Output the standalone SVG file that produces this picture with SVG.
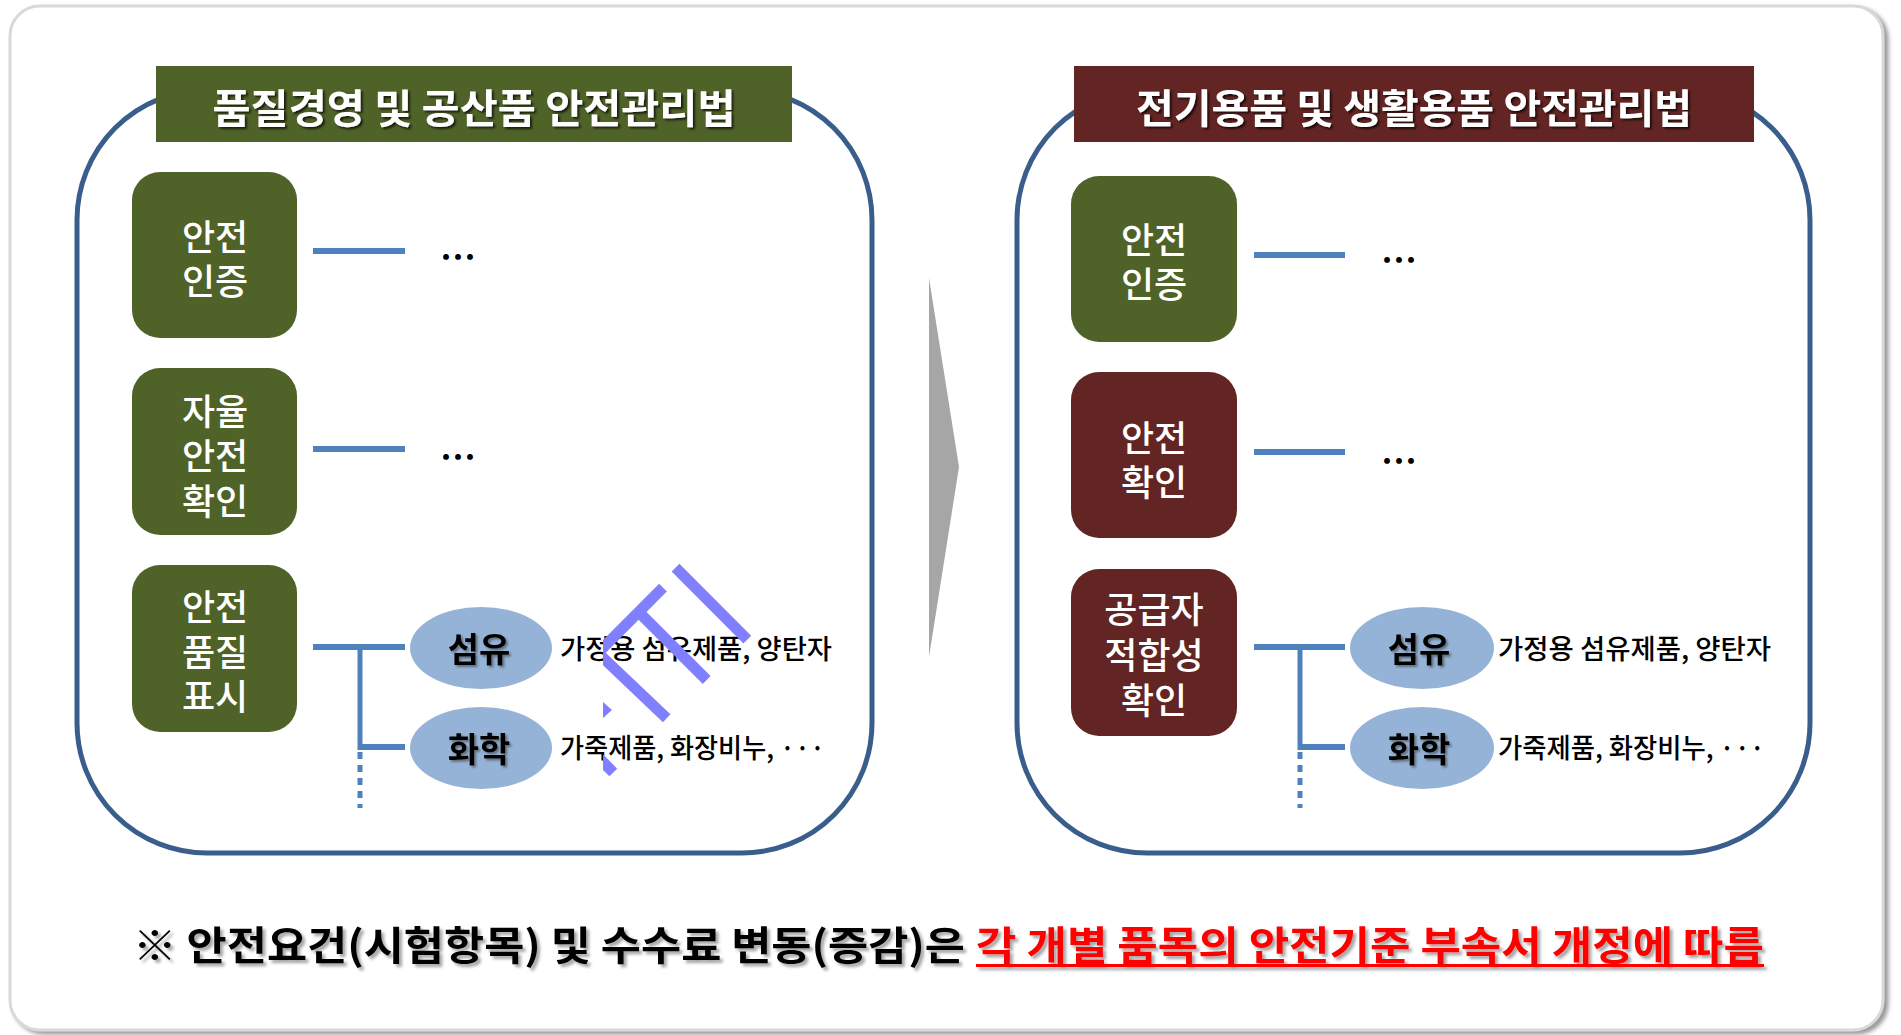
<svg xmlns="http://www.w3.org/2000/svg" width="1901" height="1035" viewBox="0 0 1901 1035">
<defs>
<style>
.kr{font-family:"Noto Sans CJK KR","Noto Sans",sans-serif}
.title{font-size:40px;font-weight:bold;fill:#fff;text-anchor:middle}
.node{font-size:36px;font-weight:500;fill:#fff;text-anchor:middle}
.green{fill:#4F6228}
.red{fill:#632523}
.panel{fill:none;stroke:#3A5E8C;stroke-width:5}
.conn{stroke:#4F81BD;stroke-width:6;fill:none}
.vert{stroke:#4F81BD;stroke-width:5;fill:none}
.dotted{stroke:#4F81BD;stroke-width:5;stroke-dasharray:7 6;fill:none}
.ell{fill:#95B3D7}
.cat{font-size:34px;font-weight:bold;fill:#000;text-anchor:middle}
.desc{font-size:27px;font-weight:500;fill:#000}
.etc{font-size:36px;font-weight:bold;fill:#000;text-anchor:middle}
.wm{stroke:#8080FF;stroke-width:11;fill:none}
.note{font-size:40px;font-weight:bold}
</style>
<filter id="shFrame" x="-2%" y="-2%" width="104%" height="104%"><feDropShadow dx="4" dy="3" stdDeviation="2" flood-color="#7f7f7f" flood-opacity="0.8"/></filter>
<filter id="shTitle" x="-5%" y="-30%" width="110%" height="160%"><feDropShadow dx="2" dy="2" stdDeviation="1" flood-color="#000" flood-opacity="0.7"/></filter>
<filter id="shCat" x="-10%" y="-30%" width="120%" height="160%"><feDropShadow dx="2" dy="2" stdDeviation="1" flood-color="#404040" flood-opacity="0.6"/></filter>
<filter id="shNote" x="-2%" y="-30%" width="104%" height="160%"><feDropShadow dx="3" dy="3" stdDeviation="1.5" flood-color="#000" flood-opacity="0.35"/></filter>
<clipPath id="wmClip"><rect x="603" y="540" width="200" height="260"/></clipPath>
</defs>

<rect id="frame" x="10" y="6" width="1873" height="1024" rx="30" fill="#fff" stroke="#d9d9d9" stroke-width="3" filter="url(#shFrame)"/>

<!-- panels -->
<g id="panel-left">
<rect class="panel" x="77" y="90" width="795" height="763" rx="130"/>
<rect class="green" x="156" y="66" width="636" height="76"/>
<text class="kr title" x="474" y="123" textLength="523" lengthAdjust="spacingAndGlyphs" filter="url(#shTitle)">품질경영 및 공산품 안전관리법</text>
</g>
<g id="panel-right">
<rect class="panel" x="1017" y="90" width="793" height="763" rx="130"/>
<rect class="red" x="1074" y="66" width="680" height="76"/>
<text class="kr title" x="1414" y="123" textLength="556" lengthAdjust="spacingAndGlyphs" filter="url(#shTitle)">전기용품 및 생활용품 안전관리법</text>
</g>

<!-- arrow -->
<polygon id="arrow" points="929,278 959,467 929,657" fill="#A6A6A6"/>

<!-- connectors -->
<g id="connectors">
<line class="conn" x1="313" y1="251" x2="405" y2="251"/>
<line class="conn" x1="313" y1="449" x2="405" y2="449"/>
<line class="conn" x1="313" y1="647" x2="405" y2="647"/>
<line class="vert" x1="360" y1="647" x2="360" y2="750"/>
<line class="conn" x1="360" y1="747" x2="405" y2="747"/>
<line class="dotted" x1="360" y1="752" x2="360" y2="808"/>

<line class="conn" x1="1254" y1="255" x2="1345" y2="255"/>
<line class="conn" x1="1254" y1="452" x2="1345" y2="452"/>
<line class="conn" x1="1254" y1="647" x2="1345" y2="647"/>
<line class="vert" x1="1300" y1="647" x2="1300" y2="750"/>
<line class="conn" x1="1300" y1="747" x2="1345" y2="747"/>
<line class="dotted" x1="1300" y1="752" x2="1300" y2="808"/>
</g>

<!-- left nodes -->
<g id="L-cert">
<rect class="green" x="132" y="172" width="165" height="166" rx="28"/>
<text class="kr node"><tspan x="215" y="251">안전</tspan><tspan x="215" y="295">인증</tspan></text>
</g>
<g id="L-self">
<rect class="green" x="132" y="368" width="165" height="167" rx="28"/>
<text class="kr node"><tspan x="215" y="425">자율</tspan><tspan x="215" y="470">안전</tspan><tspan x="215" y="515">확인</tspan></text>
</g>
<g id="L-label">
<rect class="green" x="132" y="565" width="165" height="167" rx="28"/>
<text class="kr node"><tspan x="215" y="621">안전</tspan><tspan x="215" y="666">품질</tspan><tspan x="215" y="710">표시</tspan></text>
</g>
<text class="kr etc" x="458" y="271">…</text>
<text class="kr etc" x="458" y="471">…</text>

<g id="L-fiber">
<ellipse class="ell" cx="481" cy="648" rx="71" ry="41"/>
<text class="kr cat" x="479" y="662" filter="url(#shCat)">섬유</text>
</g>
<g id="L-chem">
<ellipse class="ell" cx="481" cy="748" rx="71" ry="41"/>
<text class="kr cat" x="479" y="762" filter="url(#shCat)">화학</text>
</g>
<text class="kr desc" x="560" y="659" textLength="272" lengthAdjust="spacingAndGlyphs">가정용 섬유제품, 양탄자</text>
<text class="kr desc" x="560" y="758" textLength="265" lengthAdjust="spacingAndGlyphs">가죽제품, 화장비누, ···</text>

<!-- right nodes -->
<g id="R-cert">
<rect class="green" x="1071" y="176" width="166" height="166" rx="28"/>
<text class="kr node"><tspan x="1154" y="254">안전</tspan><tspan x="1154" y="298">인증</tspan></text>
</g>
<g id="R-check">
<rect class="red" x="1071" y="372" width="166" height="166" rx="28"/>
<text class="kr node"><tspan x="1154" y="452">안전</tspan><tspan x="1154" y="496">확인</tspan></text>
</g>
<g id="R-sdoc">
<rect class="red" x="1071" y="569" width="166" height="167" rx="28"/>
<text class="kr node"><tspan x="1154" y="623">공급자</tspan><tspan x="1154" y="669">적합성</tspan><tspan x="1154" y="714">확인</tspan></text>
</g>
<text class="kr etc" x="1399" y="274">…</text>
<text class="kr etc" x="1399" y="475">…</text>

<g id="R-fiber">
<ellipse class="ell" cx="1422" cy="648" rx="72" ry="41"/>
<text class="kr cat" x="1419" y="662" filter="url(#shCat)">섬유</text>
</g>
<g id="R-chem">
<ellipse class="ell" cx="1422" cy="748" rx="72" ry="41"/>
<text class="kr cat" x="1419" y="762" filter="url(#shCat)">화학</text>
</g>
<text class="kr desc" x="1498" y="659" textLength="273" lengthAdjust="spacingAndGlyphs">가정용 섬유제품, 양탄자</text>
<text class="kr desc" x="1498" y="758" textLength="267" lengthAdjust="spacingAndGlyphs">가죽제품, 화장비누, ···</text>

<!-- watermark shapes -->
<g id="watermark" clip-path="url(#wmClip)">
<line class="wm" x1="675.5" y1="567.7" x2="747.3" y2="639.7"/>
<line class="wm" x1="663" y1="587.7" x2="595" y2="655.7"/>
<line class="wm" x1="638.7" y1="612" x2="706.7" y2="680"/>
<line class="wm" x1="598" y1="653" x2="666.7" y2="718.3"/>
<line class="wm" x1="595" y1="754" x2="613.3" y2="772.5"/>
<polygon points="603,702 612,710 603,718" fill="#8080FF"/>
</g>

<!-- note -->
<g id="note" filter="url(#shNote)">
<text class="kr note" x="133" y="960" fill="#000" textLength="832" lengthAdjust="spacingAndGlyphs">※ 안전요건(시험항목) 및 수수료 변동(증감)은</text>
<text class="kr note" x="976" y="960" fill="#FF0000" textLength="788" lengthAdjust="spacingAndGlyphs">각 개별 품목의 안전기준 부속서 개정에 따름</text>
<rect x="976" y="964" width="788" height="3" fill="#FF0000"/>
</g>
</svg>
